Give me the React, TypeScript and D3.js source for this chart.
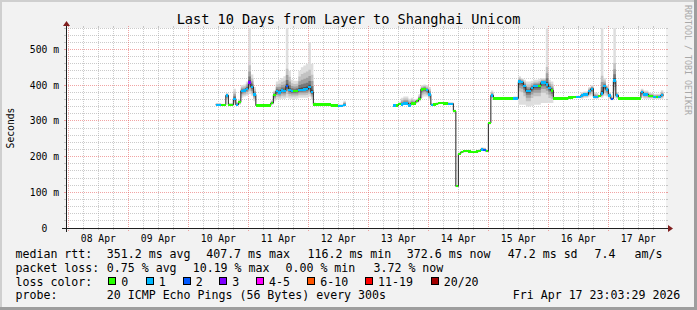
import React from 'react';
import * as d3 from 'd3';

const _ = null;

const title = 'Last 10 Days from Layer to Shanghai Unicom';
const unitLabel = 'Seconds';
const watermark = 'RRDTOOL / TOBI OETIKER';
const dayLabels = ['08 Apr', '09 Apr', '10 Apr', '11 Apr', '12 Apr', '13 Apr', '14 Apr', '15 Apr', '16 Apr', '17 Apr'];
const yTickValues = [0, 100, 200, 300, 400, 500];
const yTickLabels = ['0', '100 m', '200 m', '300 m', '400 m', '500 m'];

// hourly buckets starting 2026-04-10 00:00 (ms)
const median: (number | null)[] = [
  _, _, _, _, _, _, _, _, _, _, _, 345, 345, 345, 345, 371, 345, 345, 362, 345, 352, 384, 385, 390,
  407, 395, 374, 343, 343, 343, 343, 343, 343, 350, 373, 383, 379, 385, 383, 397, 386, 383, 383, 384, 387, 387, 388, 389,
  394, 380, 346, 346, 346, 346, 346, 346, 346, 343, 343, 343, 342, 342, 345, _, _, _, _, _, _, _, _, _,
  _, _, _, _, _, _, _, _, _, _, 343, 343, 348, 346, 349, 349, 343, 349, 349, 355, 362, 388, 390, 386,
  374, 345, 346, 348, 350, 350, 349, 349, 348, 348, 327, 117, 208, 213, 215, 215, 214, 213, 213, 214, 216, 220, 219, 215,
  294, 371, 363, 363, 363, 363, 363, 363, 363, 363, 363, 363, 410, 408, 397, 383, 383, 392, 397, 397, 397, 407, 407, 402,
  392, 385, 363, 363, 363, 363, 363, 363, 365, 365, 366, 366, 366, 371, 374, 374, 383, 390, 367, 367, 369, 377, 397, 388,
  371, 362, 413, 371, 363, 363, 363, 363, 363, 363, 363, 363, 363, 380, 374, 374, 369, 369, 367, 367, 367, 372, _, _,
];

// lost pings (of 20) per bucket
const lossCount: (number | null)[] = [
  _, _, _, _, _, _, _, _, _, _, _, 1, 1, 0, 0, 1, 0, 0, 1, 1, 0, 1, 1, 1,
  3, 1, 1, 0, 0, 0, 0, 0, 0, 0, 0, 1, 1, 1, 1, 2, 1, 1, 0, 0, 1, 1, 1, 1,
  1, 1, 0, 0, 0, 0, 0, 0, 0, 0, 0, 0, 1, 1, 1, _, _, _, _, _, _, _, _, _,
  _, _, _, _, _, _, _, _, _, _, 1, 0, 0, 1, 1, 1, 1, 0, 0, 0, 0, 0, 0, 1,
  1, 1, 0, 0, 0, 0, 0, 0, 1, 1, 0, 0, 0, 0, 0, 0, 0, 0, 0, 0, 0, 1, 2, 0,
  0, 1, 0, 0, 0, 0, 0, 0, 0, 0, 1, 1, 1, 1, 1, 1, 1, 1, 1, 1, 0, 1, 1, 1,
  1, 0, 0, 0, 0, 0, 0, 0, 0, 0, 0, 1, 1, 1, 1, 1, 1, 1, 1, 1, 0, 1, 1, 1,
  1, 2, 1, 1, 0, 0, 0, 0, 0, 0, 0, 0, 0, 1, 1, 1, 0, 0, 1, 0, 1, 1, _, _,
];

// highest ping per bucket (ms)
const smokeHi: (number | null)[] = [
  _, _, _, _, _, _, _, _, _, _, _, 350, 350, 348, 348, 378, 350, 350, 390, 352, 360, 400, 402, 410,
  600, 430, 395, 346, 346, 346, 346, 346, 346, 358, 385, 410, 415, 420, 425, 600, 440, 415, 412, 412, 440, 450, 455, 460,
  520, 460, 352, 350, 350, 350, 350, 350, 350, 346, 346, 346, 346, 346, 356, _, _, _, _, _, _, _, _, _,
  _, _, _, _, _, _, _, _, _, _, 346, 346, 352, 365, 368, 368, 362, 365, 360, 362, 375, 400, 402, 400,
  395, 350, 350, 352, 353, 353, 352, 352, 352, 352, 332, 120, 212, 216, 218, 218, 217, 216, 216, 217, 220, 226, 225, 218,
  298, 385, 366, 366, 366, 366, 366, 366, 366, 366, 368, 368, 425, 420, 415, 410, 410, 412, 415, 415, 418, 420, 420, 600,
  415, 410, 366, 366, 366, 366, 366, 366, 368, 368, 369, 370, 370, 380, 382, 382, 395, 400, 380, 378, 372, 600, 420, 400,
  380, 366, 600, 380, 366, 366, 366, 366, 366, 366, 366, 366, 366, 390, 385, 385, 380, 378, 375, 376, 376, 386, _, _,
];

// lowest ping per bucket (ms)
const smokeLo: (number | null)[] = [
  _, _, _, _, _, _, _, _, _, _, _, 343, 343, 343, 343, 360, 343, 343, 345, 343, 345, 365, 368, 370,
  375, 370, 355, 341, 341, 341, 341, 341, 341, 345, 355, 360, 360, 362, 362, 365, 362, 362, 362, 362, 365, 365, 365, 365,
  368, 360, 343, 343, 343, 343, 343, 343, 343, 341, 341, 341, 340, 340, 342, _, _, _, _, _, _, _, _, _,
  _, _, _, _, _, _, _, _, _, _, 341, 341, 345, 343, 345, 345, 341, 345, 345, 350, 355, 365, 368, 368,
  360, 343, 343, 345, 347, 347, 346, 346, 345, 345, 323, 114, 205, 210, 212, 212, 211, 210, 210, 211, 213, 216, 215, 212,
  290, 362, 361, 361, 361, 361, 361, 361, 361, 361, 361, 361, 345, 345, 345, 340, 340, 342, 345, 345, 345, 350, 350, 350,
  350, 350, 361, 361, 361, 361, 361, 361, 363, 363, 364, 364, 364, 362, 365, 365, 368, 370, 362, 362, 366, 365, 370, 368,
  362, 358, 365, 362, 361, 361, 361, 361, 361, 361, 361, 361, 361, 365, 362, 362, 362, 362, 362, 362, 362, 362, _, _,
];

const lossNames = ['0', '1', '2', '3', '4-5', '6-10', '11-19', '20/20'];
const lossUpper = [0, 1, 2, 3, 5, 10, 19, 20];
const lossColors = ['#26ff00', '#00b8ff', '#0059ff', '#7e00ff', '#ff00ff', '#ff5500', '#ff0000', '#a10000'];

const rttLabel = 'median rtt:';
const rttStats = ['351.2 ms avg', '407.7 ms max', '116.2 ms min', '372.6 ms now', '47.2 ms sd', '7.4', 'am/s'];
const lossLabel = 'packet loss:';
const lossStats = ['0.75 % avg', '10.19 % max', '0.00 % min', '3.72 % now'];
const colorLabel = 'loss color:';
const probeLabel = 'probe:';
const probeText = '20 ICMP Echo Pings (56 Bytes) every 300s';
const stampText = 'Fri Apr 17 23:03:29 2026';

const FONT = '"DejaVu Sans Mono", monospace';

export default function App() {
  const WIDTH = 697, HEIGHT = 310;
  const X0 = 66, Y0 = 228, PW = 600, PH = 200;
  const tEnd = Date.UTC(2026, 3, 17, 23, 3, 29);
  const tStart = tEnd - 10 * 86400e3;
  const dataStart = Date.UTC(2026, 3, 10);
  const HOUR = 3600e3;

  const x = d3.scaleLinear().domain([tStart, tEnd]).range([X0, X0 + PW]);
  const y = d3.scaleLinear().domain([0, 560]).range([Y0, Y0 - PH]);
  const px = (v: number) => Math.floor(v) + 0.5;

  const days = d3.utcDay.range(tStart, tEnd);
  const minorX = d3.utcHour.every(6)!.range(tStart, tEnd).filter((d) => d.getUTCHours() !== 0);
  const minorY = d3.range(20, 561, 20).filter((v) => v % 100 !== 0);
  const majorY = yTickValues.filter((v) => v > 0);

  const GRID = 'rgba(160,160,160,0.55)';
  const MGRID = 'rgba(230,90,90,0.55)';

  // smoke bands
  const fracs = [1, 0.7, 0.45, 0.25, 0.1];
  const bandColors = ['#dedede', '#c2c2c2', '#a0a0a0', '#777777', '#4f4f4f'];
  const CAP_UP = 70, CAP_DN = 40;
  type BP = { t: number; lo: number; hi: number } | null;
  const bandPaths = fracs.map((f, k) => {
    const pts: BP[] = [];
    median.forEach((m, h) => {
      if (m == null) { pts.push(null); return; }
      const up = (smokeHi[h] as number) - m;
      const dn = m - (smokeLo[h] as number);
      const u = k === 0 ? up : Math.min(up, CAP_UP) * f;
      const dd = k === 0 ? dn : Math.min(dn, CAP_DN) * f;
      const t0 = dataStart + h * HOUR;
      pts.push({ t: t0, lo: m - dd, hi: m + u }, { t: t0 + HOUR, lo: m - dd, hi: m + u });
    });
    const area = d3.area<BP>()
      .defined((d) => d != null)
      .x((d) => x(d!.t))
      .y0((d) => y(d!.lo))
      .y1((d) => y(d!.hi));
    return area(pts) || '';
  });

  type MP = { t: number; v: number } | null;
  const medPts: MP[] = [];
  median.forEach((m, h) => {
    if (m == null) { medPts.push(null); return; }
    const t0 = dataStart + h * HOUR;
    medPts.push({ t: t0, v: m }, { t: t0 + HOUR, v: m });
  });
  const medPath = d3.line<MP>()
    .defined((d) => d != null)
    .x((d) => x(d!.t))
    .y((d) => y(d!.v))(medPts) || '';

  const lossClass = (c: number) => lossUpper.findIndex((u) => c <= u);

  const lineY = [258.3, 272, 285.7, 299.4];
  const rttX = [107.3, 206.7, 308, 407.3, 508.3, 595, 635];
  const lossX = [107.3, 193.2, 286, 374];
  const swatchX = [108.3, 145.7, 182.7, 219.3, 256, 307.3, 365, 430.7];

  return (
    <svg width={WIDTH} height={HEIGHT} style={{ position: 'absolute', left: 0, top: 0, display: 'block' }}
      fontFamily={FONT}>
      <defs>
        <clipPath id="plotclip">
          <rect x={X0} y={Y0 - PH} width={PW} height={PH} />
        </clipPath>
      </defs>
      <rect x={0} y={0} width={WIDTH} height={HEIGHT} fill="#f2f2f2" />
      <rect x={0} y={0} width={WIDTH} height={2} fill="#cfcfcf" />
      <rect x={0} y={0} width={2} height={HEIGHT} fill="#cfcfcf" />
      <rect x={0} y={HEIGHT - 3} width={WIDTH} height={3} fill="#9e9e9e" />
      <rect x={WIDTH - 3} y={0} width={3} height={HEIGHT} fill="#9e9e9e" />

      <rect x={X0} y={Y0 - PH} width={PW} height={PH} fill="#ffffff" />

      {/* minor grid */}
      <g stroke={GRID} strokeWidth={1} fill="none">
        {minorY.map((v) => (
          <g key={'my' + v}>
            <line x1={X0} x2={X0 + PW} y1={px(y(v))} y2={px(y(v))} strokeDasharray="1 1" />
            <line x1={X0 - 2} x2={X0} y1={px(y(v))} y2={px(y(v))} />
            <line x1={X0 + PW} x2={X0 + PW + 2} y1={px(y(v))} y2={px(y(v))} />
          </g>
        ))}
        {minorX.map((d) => (
          <g key={'mx' + d.getTime()}>
            <line x1={px(x(d.getTime()))} x2={px(x(d.getTime()))} y1={Y0} y2={Y0 - PH} strokeDasharray="1 1" />
            <line x1={px(x(d.getTime()))} x2={px(x(d.getTime()))} y1={Y0} y2={Y0 + 2} />
            <line x1={px(x(d.getTime()))} x2={px(x(d.getTime()))} y1={Y0 - PH - 2} y2={Y0 - PH} />
          </g>
        ))}
      </g>
      {/* major grid */}
      <g stroke={MGRID} strokeWidth={1} fill="none">
        {majorY.map((v) => (
          <g key={'My' + v}>
            <line x1={X0} x2={X0 + PW} y1={px(y(v))} y2={px(y(v))} strokeDasharray="1 1" />
            <line x1={X0 - 2} x2={X0} y1={px(y(v))} y2={px(y(v))} />
            <line x1={X0 + PW} x2={X0 + PW + 2} y1={px(y(v))} y2={px(y(v))} />
          </g>
        ))}
        {days.map((d) => (
          <g key={'Mx' + d.getTime()}>
            <line x1={px(x(d.getTime()))} x2={px(x(d.getTime()))} y1={Y0 + 3} y2={Y0 - PH - 2} strokeDasharray="1 1" />
          </g>
        ))}
      </g>

      {/* smoke */}
      <g clipPath="url(#plotclip)">
        {bandPaths.map((p, k) => (
          <path key={'band' + k} d={p} fill={bandColors[k]} stroke="none" />
        ))}
        <path d={medPath} fill="none" stroke="#202020" strokeWidth={1} />
        {median.map((m, h) => {
          if (m == null || lossCount[h] == null) return null;
          const t0 = dataStart + h * HOUR;
          const cls = lossClass(lossCount[h] as number);
          return (
            <rect key={'lc' + h} x={x(t0)} width={x(t0 + HOUR) - x(t0)} y={y(m) - 1.2} height={2.4}
              fill={lossColors[cls]} shapeRendering="crispEdges" />
          );
        })}
      </g>

      {/* axes */}
      <g stroke="#1f1f1f" strokeWidth={1}>
        <line x1={X0 - 4} x2={X0 + PW + 4} y1={Y0 + 0.5} y2={Y0 + 0.5} />
        <line x1={X0 + 0.5} x2={X0 + 0.5} y1={Y0 + 4} y2={Y0 - PH - 4} />
      </g>
      <polygon points={`${X0 + PW + 2},${Y0 - 3} ${X0 + PW + 2},${Y0 + 4} ${X0 + PW + 7},${Y0 + 0.5}`} fill="#801f1f" />
      <polygon points={`${X0 - 3},${Y0 - PH - 2} ${X0 + 4},${Y0 - PH - 2} ${X0 + 0.5},${Y0 - PH - 7}`} fill="#801f1f" />

      {/* y labels */}
      <g fontSize={9.7} fill="#000" textAnchor="end">
        {yTickValues.map((v, i) => (
          <text key={'yl' + v} x={yTickLabels[i].includes(' ') ? 59 : 59 - 2 * 5.84} y={y(v) + 3.5}>{yTickLabels[i]}</text>
        ))}
      </g>
      {/* x labels */}
      <g fontSize={9.7} fill="#000" textAnchor="middle">
        {days.map((d, i) => (
          <text key={'xl' + i} x={x(d.getTime() + 12 * HOUR)} y={242}>{dayLabels[i]}</text>
        ))}
      </g>

      <text x={348.5} y={24} fontSize={13.6} textAnchor="middle" fill="#000">{title}</text>
      <text transform="translate(14,128) rotate(-90)" fontSize={9.7} textAnchor="middle" fill="#000">{unitLabel}</text>
      <text transform="translate(685,5) rotate(90)" fontSize={8.3} fill="#a8a8a8">{watermark}</text>

      {/* legend */}
      <g fontSize={11.6} fill="#000">
        <text x={15.5} y={lineY[0]}>{rttLabel}</text>
        {rttStats.map((s, i) => (
          <text key={'rs' + i} x={rttX[i] - 0.5} y={lineY[0]}>{s}</text>
        ))}
        <text x={15.5} y={lineY[1]}>{lossLabel}</text>
        {lossStats.map((s, i) => (
          <text key={'ls' + i} x={lossX[i] - 0.5} y={lineY[1]}>{s}</text>
        ))}
        <text x={15.5} y={lineY[2]}>{colorLabel}</text>
        {lossNames.map((n, i) => (
          <g key={'sw' + i}>
            <rect x={Math.round(swatchX[i]) + 0.5} y={277.5} width={7} height={7} fill={lossColors[i]} stroke="#000" strokeWidth={1} />
            <text x={swatchX[i] + 13} y={lineY[2]}>{n}</text>
          </g>
        ))}
        <text x={15.5} y={lineY[3]}>{probeLabel}</text>
        <text x={106.8} y={lineY[3]}>{probeText}</text>
        <text x={512.8} y={lineY[3]}>{stampText}</text>
      </g>
    </svg>
  );
}
